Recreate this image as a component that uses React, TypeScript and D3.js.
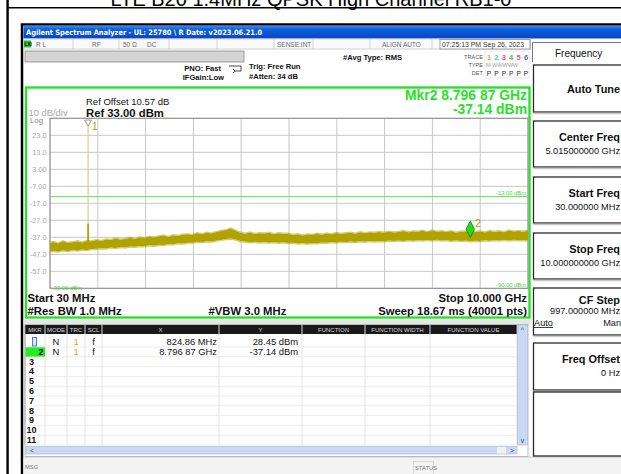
import React from "react";
import * as d3 from "d3";

// ---------- data ----------
const TITLE = "LTE B20 1.4MHz QPSK High Channel RB1-0";
const START_GHZ = 0.03;
const STOP_GHZ = 10.0;
const REF_DBM = 33;
const DB_PER_DIV = 10;
const Y_TICK_VALUES = [23, 13, 3, -7, -17, -27, -37, -47, -57];
const Y_TICK_LABELS = ["23.0", "13.0", "3.00", "-7.00", "-17.0", "-27.0", "-37.0", "-47.0", "-57.0"];
const DISPLAY_LINE_DBM = -13;

const FREQ_GHZ = [
  0.03, 0.1, 0.2, 0.3, 0.4, 0.5, 0.6, 0.7, 0.8, 0.9,
  1.0, 1.1, 1.2, 1.3, 1.4, 1.5, 1.6, 1.7, 1.8, 1.9,
  2.0, 2.1, 2.2, 2.3, 2.4, 2.5, 2.6, 2.7, 2.8, 2.9,
  3.0, 3.1, 3.2, 3.3, 3.4, 3.5, 3.6, 3.7, 3.8, 3.9,
  4.0, 4.1, 4.2, 4.3, 4.4, 4.5, 4.6, 4.7, 4.8, 4.9,
  5.0, 5.1, 5.2, 5.3, 5.4, 5.5, 5.6, 5.7, 5.8, 5.9,
  6.0, 6.1, 6.2, 6.3, 6.4, 6.5, 6.6, 6.7, 6.8, 6.9,
  7.0, 7.1, 7.2, 7.3, 7.4, 7.5, 7.6, 7.7, 7.8, 7.9,
  8.0, 8.1, 8.2, 8.3, 8.4, 8.5, 8.6, 8.7, 8.8, 8.9,
  9.0, 9.1, 9.2, 9.3, 9.4, 9.5, 9.6, 9.7, 9.8, 9.9,
  10.0,
];
// upper edge of the noise band (dBm)
const TRACE_HI_DBM = [
  -40.0, -39.4, -40.3, -39.0, -39.9, -39.6, -38.9, -39.7, -38.8, -38.9,
  -38.3, -38.8, -37.9, -38.2, -37.4, -38.1, -37.6, -36.9, -37.7, -36.8,
  -37.2, -36.3, -36.8, -36.1, -35.6, -36.4, -35.4, -35.9, -35.1, -34.9,
  -35.2, -34.3, -34.8, -34.0, -34.4, -33.6, -32.9, -32.4, -31.5, -32.8,
  -33.9, -34.5, -33.8, -34.7, -34.2, -34.4, -33.9, -34.8, -34.3, -34.6,
  -34.5, -35.3, -34.9, -35.6, -35.0, -35.2, -34.6, -35.1, -34.4, -34.9,
  -34.1, -34.7, -34.2, -33.9, -34.5, -33.7, -34.3, -33.8, -34.0, -33.5,
  -33.9, -33.3, -33.8, -33.5, -32.9, -33.7, -33.2, -33.4, -32.8, -33.6,
  -32.7, -33.4, -33.1, -33.6, -33.0, -33.9, -33.4, -33.2, -33.7, -33.5,
  -33.2, -33.8, -32.9, -33.5, -33.1, -33.7, -32.6, -33.3, -32.9, -33.4,
  -32.8,
];
// lower edge of the noise band (dBm)
const TRACE_LO_DBM = [
  -45.9, -45.3, -45.8, -45.0, -45.5, -44.8, -45.2, -44.6, -44.9, -44.2,
  -44.1, -43.8, -43.9, -43.3, -43.6, -43.1, -43.4, -42.8, -42.9, -42.5,
  -42.6, -42.1, -42.3, -41.7, -41.9, -41.4, -41.5, -40.9, -41.0, -40.6,
  -40.5, -40.0, -40.2, -39.7, -39.8, -39.3, -38.9, -38.4, -38.1, -38.7,
  -39.5, -39.8, -40.3, -40.0, -40.4, -40.1, -40.5, -40.2, -40.6, -40.3,
  -40.7, -40.5, -41.0, -40.8, -41.1, -40.7, -40.9, -40.4, -40.6, -40.2,
  -40.4, -40.0, -40.2, -39.8, -40.1, -39.7, -39.9, -39.6, -39.8, -39.5,
  -39.7, -39.3, -39.6, -39.2, -39.5, -39.1, -39.4, -39.0, -39.3, -38.9,
  -39.2, -38.8, -39.3, -39.0, -39.5, -39.1, -39.6, -39.3, -39.7, -39.4,
  -39.5, -39.1, -39.4, -39.0, -39.3, -38.9, -39.2, -38.8, -39.1, -38.9,
  -39.2,
];
// carrier spike (marker 1)
const SPIKE_GHZ = 0.82486;
const SPIKE_PEAK_DBM = 28.45;
const SPIKE_SHOULDER_DBM = -29;
const SPIKE_BASE_DBM = -41;
// marker 2
const MKR2_GHZ = 8.79687;
const MKR2_DBM = -37.14;

const MKR_ROWS = ["1", "2", "3", "4", "5", "6", "7", "8", "9", "10", "11"];
const MKR_X = ["824.86 MHz", "8.796 87 GHz"];
const MKR_Y = ["28.45 dBm", "-37.14 dBm"];
const TABLE_HEADERS = ["MKR", "MODE", "TRC", "SCL", "X", "Y", "FUNCTION", "FUNCTION WIDTH", "FUNCTION VALUE"];
const TABLE_COLS = [25, 45, 67, 85, 102, 219, 302, 365, 430, 517];

const SOFTKEYS = [
  { title: "Auto Tune", value: "", top: 65, bottom: 112 },
  { title: "Center Freq", value: "5.015000000 GHz", top: 121, bottom: 167 },
  { title: "Start Freq", value: "30.000000 MHz", top: 177, bottom: 223 },
  { title: "Stop Freq", value: "10.000000000 GHz", top: 233, bottom: 279 },
  { title: "CF Step", value: "997.000000 MHz", top: 288, bottom: 335 },
  { title: "Freq Offset", value: "0 Hz", top: 343, bottom: 390 },
];
const TRACE_DIGITS = ["1", "2", "3", "4", "5", "6"];
const TRACE_COLORS = ["#f0a030", "#30c8f0", "#e040e0", "#40c040", "#f05090", "#6a5cf0"];

// ---------- drawing ----------
const FONT = "'Liberation Sans', Arial, sans-serif";
const OLIVE = "#b0a300";
const GREEN = "#2be02b";

export default function App() {
  const PX0 = 50, PX1 = 528, PY0 = 118.3, PY1 = 288.3;
  const x = d3.scaleLinear().domain([START_GHZ, STOP_GHZ]).range([PX0, PX1]);
  const y = d3.scaleLinear().domain([REF_DBM - 10 * DB_PER_DIV, REF_DBM]).range([PY1, PY0]);
  const gridF = d3.range(11).map((i) => START_GHZ + (i * (STOP_GHZ - START_GHZ)) / 10);
  const gridD = d3.range(11).map((i) => REF_DBM - i * DB_PER_DIV);

  const idx = FREQ_GHZ.map((_, i) => i);
  const band = d3
    .area<number>()
    .x((i) => x(FREQ_GHZ[i]))
    .y0((i) => y(TRACE_LO_DBM[i]) - 0.6)
    .y1((i) => y(TRACE_HI_DBM[i]) + 0.6)
    .curve(d3.curveLinear);
  const hiLine = d3.line<number>().x((i) => x(FREQ_GHZ[i])).y((i) => y(TRACE_HI_DBM[i]));
  const loLine = d3.line<number>().x((i) => x(FREQ_GHZ[i])).y((i) => y(TRACE_LO_DBM[i]));

  const sx = x(SPIKE_GHZ);
  const m2x = x(MKR2_GHZ);
  const m2y = y(MKR2_DBM);

  const rowBase = (k: number) => 345 + k * 9.8;
  const colMid = (c: number) => (TABLE_COLS[c] + TABLE_COLS[c + 1]) / 2;

  return (
    <svg
      width={621}
      height={474}
      style={{ position: "fixed", left: 0, top: 0, background: "#fff" }}
      fontFamily={FONT}
    >
      <rect x={0} y={0} width={621} height={474} fill="#fff" />
      {/* document title (cut at top) */}
      <text x={311} y={5.5} fontSize={20} textAnchor="middle" fill="#000">
        {TITLE}
      </text>
      <line x1={7.5} x2={621} y1={7.8} y2={7.8} stroke="#000" strokeWidth={1.6} />
      <line x1={7.6} x2={7.6} y1={0} y2={474} stroke="#000" strokeWidth={2.4} />

      {/* screenshot frame */}
      <rect x={22} y={24.5} width={610} height={460} fill="#fff" stroke="#000" strokeWidth={2.5} />
      <defs>
        <linearGradient id="tb" x1="0" y1="0" x2="0" y2="1">
          <stop offset="0" stopColor="#3d8ef2" />
          <stop offset="0.3" stopColor="#0d5fe0" />
          <stop offset="1" stopColor="#0646c4" />
        </linearGradient>
      </defs>
      <rect x={23.5} y={25.5} width={600} height={13} fill="url(#tb)" />
      <text x={26} y={35} fontSize={7.4} fontWeight="bold" fill="#fff" fontFamily="'DejaVu Sans Condensed', 'DejaVu Sans', sans-serif">
        {"Agilent Spectrum Analyzer - UL: 25780 \\ R Date: v2023.06.21.0"}
      </text>

      {/* status row */}
      <rect x={23.5} y={39} width={507} height={10} fill="#fafafa" stroke="#c8c8c8" strokeWidth={0.8} />
      {[73, 119, 169, 217, 274, 313, 370, 432].map((v) => (
        <line key={v} x1={v} x2={v} y1={39} y2={49} stroke="#c8c8c8" strokeWidth={0.8} />
      ))}
      <rect x={440} y={39.5} width={90} height={9.5} fill="#fff" stroke="#888" strokeWidth={0.8} />
      <rect x={24} y={40.5} width={7} height={7} fill="#2ac02a" />
      <text x={24.6} y={46.3} fontSize={4.6} fill="#000" fontWeight="bold">LXI</text>
      <g fontSize={6.5} fill="#666">
        <text x={36} y={46.8}>R L</text>
        <text x={92} y={46.8}>RF</text>
        <text x={123} y={46.8}>50 Ω</text>
        <text x={147} y={46.8}>DC</text>
        <text x={277} y={46.8}>SENSE:INT</text>
        <text x={382} y={46.8}>ALIGN AUTO</text>
        <text x={442} y={46.8} fill="#333" fontSize={6.9}>07:25:13 PM Sep 26, 2023</text>
      </g>

      {/* gray message bar and settings */}
      <rect x={25} y={51} width={219} height={11} fill="#d4d4d4" stroke="#8a8a8a" strokeWidth={0.8} />
      <g fontSize={7.6} fontWeight="bold" fill="#111">
        <text x={221} y={71} textAnchor="end">PNO: Fast</text>
        <text x={224} y={80} textAnchor="end">IFGain:Low</text>
        <text x={249} y={69}>Trig: Free Run</text>
        <text x={249} y={79}>#Atten: 34 dB</text>
        <text x={343} y={60}>#Avg Type: RMS</text>
      </g>
      <path d="M229,66 h12 v5 h-6 M233,69 l2,2 l-2,2" fill="none" stroke="#333" strokeWidth={0.9} />
      <rect x={485} y={51} width={44} height={27} fill="none" stroke="#ddd" strokeWidth={0.6} />
      <g fontSize={5.6} fill="#555" textAnchor="end">
        <text x={483} y={59}>TRACE</text>
        <text x={483} y={67}>TYPE</text>
        <text x={483} y={75}>DET</text>
      </g>
      {TRACE_DIGITS.map((t, i) => (
        <text key={t} x={489 + i * 7.4} y={59.5} fontSize={7.5} fontWeight="bold" fill={TRACE_COLORS[i]} textAnchor="middle">
          {t}
        </text>
      ))}
      <text x={486} y={67} fontSize={5.5} fill="#999">M WWWWW</text>
      {TRACE_DIGITS.map((t, i) => (
        <text key={"p" + t} x={489 + i * 7.4} y={75.5} fontSize={6.5} fill="#222" textAnchor="middle">
          P
        </text>
      ))}

      {/* green measurement frame */}
      <rect x={26} y={87.5} width={503.5} height={230} fill="#fff" stroke={GREEN} strokeWidth={2.4} />

      <text x={86} y={105} fontSize={9.5} fill="#111">Ref Offset 10.57 dB</text>
      <text x={86} y={116.5} fontSize={11.3} fontWeight="bold" fill="#111">Ref 33.00 dBm</text>
      <text x={28.5} y={116} fontSize={9.4} fill="#a8a8a8">10 dB/div</text>
      <text x={30} y={123.3} fontSize={7.8} fill="#888">Log</text>
      <text x={527} y={100} fontSize={13.9} fontWeight="bold" fill={GREEN} textAnchor="end">Mkr2 8.796 87 GHz</text>
      <text x={527} y={114} fontSize={13.9} fontWeight="bold" fill={GREEN} textAnchor="end">-37.14 dBm</text>

      {/* grid */}
      <g stroke="#c6c6c6" strokeWidth={1}>
        {gridF.map((f, i) => (
          <line key={"v" + i} x1={x(f)} x2={x(f)} y1={PY0} y2={PY1} />
        ))}
        {gridD.map((d, i) => (
          <line key={"h" + i} x1={PX0} x2={PX1} y1={y(d)} y2={y(d)} />
        ))}
      </g>
      <rect x={PX0} y={PY0} width={PX1 - PX0} height={PY1 - PY0} fill="none" stroke="#8c8c8c" strokeWidth={1} />
      {Y_TICK_VALUES.map((v, i) => (
        <text key={v} x={46.5} y={y(v) + 2.6} fontSize={7.3} fill="#a8a8a8" textAnchor="end">
          {Y_TICK_LABELS[i]}
        </text>
      ))}

      {/* display line */}
      <line x1={PX0} x2={PX1} y1={y(DISPLAY_LINE_DBM)} y2={y(DISPLAY_LINE_DBM)} stroke="#5cf05c" strokeWidth={1} />
      <text x={526} y={y(DISPLAY_LINE_DBM) - 2} fontSize={5.8} fill="#3ad83a" textAnchor="end">-13.00 dBm</text>
      <text x={526} y={PY1 - 1.5} fontSize={5.8} fill="#3ad83a" textAnchor="end">-90.00 dBm</text>
      <text x={52} y={PY1 + 1.5} fontSize={5.8} fill="#3ad83a">-90.00 dBm</text>

      {/* trace */}
      <path d={band(idx) || ""} fill={OLIVE} stroke="none" />
      <path d={hiLine(idx) || ""} fill="none" stroke={OLIVE} strokeOpacity={0.55} strokeWidth={1.2} />
      <path d={loLine(idx) || ""} fill="none" stroke={OLIVE} strokeOpacity={0.55} strokeWidth={1.2} />
      <line x1={sx} x2={sx} y1={y(SPIKE_SHOULDER_DBM)} y2={y(SPIKE_PEAK_DBM)} stroke="#d9d18c" strokeWidth={1.2} />
      <line x1={sx} x2={sx} y1={y(SPIKE_BASE_DBM) + 3} y2={y(SPIKE_SHOULDER_DBM)} stroke={OLIVE} strokeWidth={1.8} />

      {/* markers */}
      <path
        d={`M${sx - 3.5},${y(SPIKE_PEAK_DBM) - 6} L${sx + 3.5},${y(SPIKE_PEAK_DBM) - 6} L${sx},${y(SPIKE_PEAK_DBM)} Z`}
        fill="none"
        stroke="#9a9a80"
        strokeWidth={1}
      />
      <text x={sx + 4} y={y(SPIKE_PEAK_DBM) + 3.5} fontSize={10} fill={OLIVE}>1</text>
      <path
        d={`M${m2x},${m2y} L${m2x - 4.3},${m2y - 8.3} L${m2x},${m2y - 16.6} L${m2x + 4.3},${m2y - 8.3} Z`}
        fill="#22dd22"
        stroke="#117a11"
        strokeWidth={0.8}
      />
      <text x={m2x + 5} y={m2y - 10.5} fontSize={10.5} fill={OLIVE}>2</text>

      {/* bottom settings */}
      <g fontSize={11.3} fontWeight="bold" fill="#111">
        <text x={27.5} y={301.5}>Start 30 MHz</text>
        <text x={27.5} y={314.5}>#Res BW 1.0 MHz</text>
        <text x={208.5} y={314.5}>#VBW 3.0 MHz</text>
        <text x={527} y={301.5} textAnchor="end">Stop 10.000 GHz</text>
        <text x={527} y={314.5} textAnchor="end">Sweep  18.67 ms (40001 pts)</text>
      </g>

      {/* marker table */}
      <rect x={23.5} y={319.5} width={507} height={5} fill="#e6e6e6" />
      <rect x={25} y={324.5} width={503} height={132} fill="#fff" stroke="#aaa" strokeWidth={0.8} />
      <rect x={25} y={325} width={492} height={9} fill="#1a1a1a" />
      {TABLE_HEADERS.map((h, i) => (
        <text key={h} x={colMid(i)} y={332.2} fontSize={6} fill="#d8d8d8" textAnchor="middle">
          {h}
        </text>
      ))}
      {TABLE_COLS.map((c, i) => (
        <line key={"c" + i} x1={c} x2={c} y1={325} y2={445} stroke={i === 0 ? "#aaa" : "#dcdcdc"} strokeWidth={0.8} />
      ))}
      {TABLE_COLS.slice(1, -1).map((c, i) => (
        <line key={"hc" + i} x1={c} x2={c} y1={325} y2={334} stroke="#999" strokeWidth={0.8} />
      ))}
      {MKR_ROWS.map((r, k) => (
        <line key={"r" + r} x1={25} x2={517} y1={rowBase(k) + 2} y2={rowBase(k) + 2} stroke="#e4e4e4" strokeWidth={0.7} />
      ))}
      <rect x={25.5} y={rowBase(1) - 7.5} width={19.5} height={9.3} fill="#22ee22" />
      <rect x={32.5} y={rowBase(0) - 7.5} width={4} height={8.5} fill="#dce8ff" stroke="#3a6fd8" strokeWidth={0.9} />
      {MKR_ROWS.map((r, k) =>
        k >= 2 ? (
          <text key={"n" + r} x={31.5} y={rowBase(k)} fontSize={9} fontWeight="bold" fill="#111" textAnchor="middle">
            {r}
          </text>
        ) : null
      )}
      <text x={41} y={rowBase(1)} fontSize={9} fontWeight="bold" fill="#111" textAnchor="middle">2</text>
      {MKR_X.map((mx, k) => (
        <g key={"m" + k} fontSize={9.4} fill="#111">
          <text x={colMid(1)} y={rowBase(k)} textAnchor="middle">N</text>
          <text x={colMid(2)} y={rowBase(k)} textAnchor="middle" fill="#c8b400">1</text>
          <text x={colMid(3)} y={rowBase(k)} textAnchor="middle">f</text>
          <text x={217} y={rowBase(k)} textAnchor="end">{mx}</text>
          <text x={298} y={rowBase(k)} textAnchor="end">{MKR_Y[k]}</text>
        </g>
      ))}
      {/* scrollbars */}
      <rect x={517.5} y={325} width={10} height={120} fill="#c9d9f3" stroke="#a8bce0" strokeWidth={0.7} />
      <text x={522.5} y={332} fontSize={7} fill="#445" textAnchor="middle">^</text>
      <text x={522.5} y={443} fontSize={7} fill="#445" textAnchor="middle">v</text>
      <rect x={26} y={446.5} width={491} height={7.5} fill="#c9d9f3" stroke="#a8bce0" strokeWidth={0.7} />
      <rect x={497} y={447} width={9} height={6.5} fill="#f2f2f2" />
      <text x={30} y={453} fontSize={7} fill="#445">&lt;</text>
      <text x={510} y={453} fontSize={7} fill="#445">&gt;</text>

      {/* message line */}
      <rect x={23.5} y={457} width={600} height={20} fill="#f3f3f3" />
      <line x1={23.5} x2={621} y1={457} y2={457} stroke="#bbb" strokeWidth={0.8} />
      <text x={25} y={469} fontSize={5.8} fill="#777">MSG</text>
      <rect x={413.5} y={461.5} width={20} height={13} fill="none" stroke="#ccc" strokeWidth={0.7} />
      <text x={415} y={470} fontSize={5.8} fill="#777">STATUS</text>

      {/* right softkey panel */}
      <line x1={532.5} x2={621} y1={42.5} y2={42.5} stroke="#777" strokeWidth={1} />
      <line x1={532.5} x2={532.5} y1={42.5} y2={62} stroke="#777" strokeWidth={1} />
      <text x={555} y={56.5} fontSize={10} fill="#111">Frequency</text>
      {SOFTKEYS.map((s) => (
        <g key={s.title}>
          <rect x={533.5} y={s.top} width={100} height={s.bottom - s.top} fill="#fff" stroke="#2a2a2a" strokeWidth={1.3} />
          <line x1={533.5} x2={621} y1={s.bottom + 1.5} y2={s.bottom + 1.5} stroke="#c8c8c8" strokeWidth={1.5} />
          <text
            x={620}
            y={s.value ? s.top + (s.title === "CF Step" ? 16 : 20) : s.top + 28}
            fontSize={10.9}
            fontWeight="bold"
            fill="#111"
            textAnchor="end"
          >
            {s.title}
          </text>
          {s.value ? (
            <text x={620} y={s.top + (s.title === "CF Step" ? 26 : 33)} fontSize={9.2} fill="#111" textAnchor="end">
              {s.value}
            </text>
          ) : null}
        </g>
      ))}
      <text x={534} y={326} fontSize={9.2} fill="#111">Auto</text>
      <line x1={534} x2={553} y1={327.5} y2={327.5} stroke="#111" strokeWidth={0.8} />
      <text x={621} y={326} fontSize={9.2} fill="#111" textAnchor="end">Man</text>
      <rect x={533.5} y={392} width={100} height={64} fill="#fff" stroke="#2a2a2a" strokeWidth={1.3} />
    </svg>
  );
}
